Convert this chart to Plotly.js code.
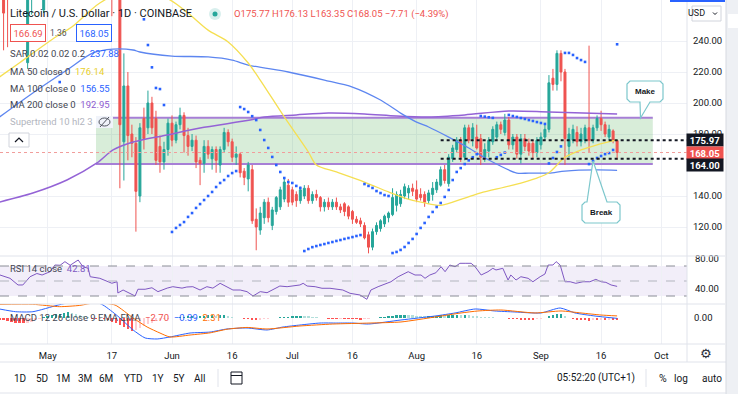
<!DOCTYPE html>
<html><head><meta charset="utf-8">
<script src="https://cdn.plot.ly/plotly-3.0.1.min.js"></script>
<style>html,body{margin:0;padding:0;background:#fff;overflow:hidden}#chart{width:738px;height:394px}</style>
</head><body><div id="chart"></div>
<script>
// ---------------- DATA ----------------
const startDate = '2021-04-19'; // first daily candle
const openP = [
300,290,280,270,280,290,285,226,280,290, 285,260,290,295,285,300,280,315,355,340,
365,380,345,370,300,290,320,290,300,280, 275,175,211,180,174,140,190,184,200,190,
172,162,170,187,176,186,192,179,172,176, 163,161,172,164,170,160,170,181,175,165,
167,156,151,157,125,118,126,136,121,130, 133,138,147,144,141,137,140,145,137,141,
139,133,136,133,136,133,135,133,130,125, 124,121,115,107,117,119,122,126,128,134,
135,140,142,145,144,141,141,137,141,144, 147,157,148,164,170,176,165,184,177,178,
177,165,169,175,178,186,181,189,173,178, 167,177,174,174,168,173,178,183,216,212,
232,220,172,176,181,175,176,184,176,184, 190,186,178,182,175.77];
const highP = [
310,300,295,285,295,300,298,290,295,300, 295,300,300,300,310,310,320,360,365,370,
390,410,380,385,320,330,330,320,305,290, 280,232,220,186,178,187,197,208,204,195,
179,175,190,192,188,197,194,184,180,179, 165,176,176,172,172,172,184,183,177,172,
168,158,162,160,132,133,138,139,133,140, 146,152,151,146,143,146,147,147,143,144,
140,138,139,138,139,135,136,134,131,127, 126,123,117,119,123,125,128,130,145,143,
144,148,147,148,150,145,143,144,149,151, 159,160,167,173,178,178,186,186,187,186,
180,174,178,185,188,188,193,191,180,180, 180,180,177,176,178,181,186,218,222,234,
234,222,184,186,185,184,186,237,186,192, 195,188,186,183,176.13];
const lowP = [
275,234,236,268,270,275,272,222,257,270, 268,258,280,280,282,270,275,310,330,335,
345,330,340,290,270,285,285,275,256,268, 145,150,163,165,117,136,170,180,180,160,
155,157,166,172,174,183,168,166,169,158, 147,155,164,157,155,155,168,172,162,160,
152,147,143,122,105,115,122,123,118,128, 131,136,133,134,133,135,138,135,135,137,
130,130,131,131,131,129,127,125,122,122, 120,112,103,105,115,117,120,123,127,130,
133,138,138,140,136,137,133,135,137,142, 146,148,146,162,168,162,163,174,172,170,
160,162,165,173,176,180,179,170,170,164, 161,169,166,164,165,170,176,181,208,208,
214,160,165,174,172,172,174,168,174,182, 182,178,176,174,163.35];
const closeP = [
290,258,270,280,290,285,290,280,290,285, 280,290,295,285,300,280,315,355,340,365,
380,345,370,300,290,320,290,300,280,275, 186,211,179,174,143,184,177,200,184,163,
162,170,187,176,186,192,179,172,176,162, 161,172,167,170,163,170,181,175,165,167,
155,152,160,124,120,129,136,126,131,139, 144,149,136,136,137,144,145,137,141,139,
133,136,133,136,133,131,130,127,125,123, 122,113,107,117,121,124,127,129,139,141,
141,146,145,143,138,139,136,142,145,149, 157,150,165,171,176,165,184,176,184,171,
165,170,176,183,186,183,189,173,178,167, 177,172,169,168,176,178,183,213,212,232,
220,177,180,183,175,180,184,176,184,190, 186,180,183,176,168.05];

// Moving averages (day offset from startDate, value)
const ma50Day = [0,5,14,18,25,34,42.5,47,52,57,62,65,71,77,79,84,91,97,101,106,110,116,120,128,134,137,141,145,149,154];
const ma50Val = [216.8,226,242.6,249,264.5,275,266.5,258,247,239.4,225.8,214.8,191,168.4,160,155.5,149,142.6,138.7,135.5,134,138.7,142,147,151.6,155,165,169.7,173,176.14];
const ma100Day = [0,8.3,16.8,23.3,28.3,33.3,35,43,52,58,62,72,81,88,95,100,104,107,112,117,122,129,132,137,141,149,154];
const ma100Val = [191,206.5,221.3,232.3,234.8,234.2,232.9,230.3,229.7,227.7,224.5,220,214.8,210.3,201.9,193.5,187.7,184.5,178,171,163.2,154.8,154.8,154.8,156.1,156.8,156.55];
const ma200Day = [0,8.3,16.8,24.3,28.3,33.3,41.8,50,62.5,66,74,82,91,99,107,116,127,137,154];
const ma200Val = [136.1,141.9,150.3,161.3,169.7,174.8,179.4,183.9,189,191,192.3,193.5,192.9,191.6,191,192.3,194.8,194.2,192.95];

// Parabolic SAR dots
const sarDay = [15,36,37,38,39,40,41,
 43,44,45,46,47,48,49,50,51,52,53,54,55,56,57,58,59,
 60,61,62,63,64,65,66,67,68,69,70,71,72,73,74,75,
 76,77,78,79,80,81,82,83,84,85,86,87,88,89,90,
 91,92,93,94,95,96,97,
 98,99,100,101,102,103,104,105,106,107,108,109,110,111,112,113,114,115,116,117,118,119,
 120,121,122,123,124,125,126,127,128,129,130,131,132,133,134,135,136,
 137,138,139,140,141,142,143,144,145,146,147,148,149,150,151,152,153,154];
const sarVal = [213.5,254,237.4,223,209.7,209,198.7,
 116.8,119.4,121.3,123.2,126.5,129,132.3,134.8,137.4,140,142.6,145.8,148.4,150.3,152.9,154.8,156.1,
 197.4,196.1,194.2,191.5,189,182.6,176.1,171,165.2,160,155.5,151.6,149,148.4,146.5,145.2,
 104.5,105.8,107,107.7,108.4,109,109.7,110.3,111,111.6,112.3,112.9,113.5,114.2,114.8,
 147.7,146.5,145.2,143.2,141.9,140.6,140,
 103.2,103.9,105.2,107.1,109.7,112.3,115.5,119.4,122.6,126.5,129.7,132.9,135.5,139.4,143.9,150.3,155.5,158,160.6,163,165,167,
 191.6,191.2,190.8,190.4,165,166.5,168,192.3,191.6,191,190.3,189.7,189,188.4,187.7,187.1,186.5,
 161,164.5,168.4,172,232.3,232.3,231,229,227.7,226.5,160.6,162.6,164.5,165.8,167,167.7,169.7,237.88];

// RSI 14
const rsiDay = [0.1,2.6,4.6,5.8,7.6,9.3,10.6,12.6,13.8,15.1,16.3,17.6,19.6,20.8,22.1,22.6,25,26.8,28,29.3,29.5,30.8,32.5,33.8,34.5,36.3,38,39.5,41.8,43.2,45.5,46.7,48.2,50,51.7,53.2,55,56.7,58.2,60,61.7,63.2,65,66.7,68.2,69.9,71.7,73.2,74.9,75.7,76.7,78.7,80.4,82.4,84.1,85.6,87.4,89.9,91.6,92.6,94.4,96.1,97.6,99.4,101.9,103.6,105.1,106.1,107.3,108.8,110.1,111.1,112.3,113.6,114.8,116.1,117.6,118.6,120.1,121.8,123,123.8,125.5,126.8,127.5,128.8,130,131.8,133,134.8,136,136.8,138,138.8,139.8,141,142.3,143.7,145.5,147.2,148.7,150,151.2,152.5,154];
const rsiVal = [58,53.6,44.7,44.7,55.7,60,58,62.4,71.3,71,75.8,71,78,69,67,55.7,53.6,49,47,49,34,38,34,30,39,39,41,35.8,40.5,42.4,40.5,42,42.4,38,42.4,40.5,46.9,42.4,38,38,35.8,30,35.8,34.4,39,43.3,42.4,43.3,44.7,46.9,43.3,42.4,40.3,40.3,38.9,38,33.6,31.3,25.6,38,42.4,46,49,55.7,62.4,58,58,53.6,58,61,69,62.4,71.3,69,73.6,73.6,73.6,69,58,62.4,66.9,64.7,66.9,51.3,58,51.3,55.7,53.6,49,55.7,59.3,71.3,71.3,75.8,71.3,49,49,46.9,49,49,52.2,49,48.2,44.7,42.81];

// MACD 12 26 9
const macdDay = [0,4,8.3,14.6,18.3,22,25.8,29.5,33.3,36.3,39.3,42.5,47.5,52.5,56.7,61.7,66.7,70.7,74.9,79.9,84.1,88.1,92,100.1,108.6,113.6,118.6,123.5,128.5,135,139.8,143.5,148.5,154];
const macdVal = [10,7,7,14.4,18,21,14.4,2,-13.3,-22.2,-23.3,-21.1,-16.7,-15.6,-12.2,-11.1,-13.3,-10,-7.8,-5.6,-5.6,-5.6,-6.7,-2.2,2.2,5.6,10,7.8,6.7,5.6,11.1,5.6,2.2,-0.39];
const signalDay = [0,8.3,15,20,24,28.8,33.3,36.8,40,42.5,47.5,52.5,56.7,61.7,66.7,74.9,83.1,92.4,100.1,108.6,115.1,119.3,125,133.5,140,145,150,154];
const signalVal = [15,15.2,12.6,14,17,14.4,0,-10,-16.7,-21.1,-18.9,-16.5,-12.5,-10.5,-12.2,-8.9,-6.7,-5.6,-4.4,1.1,5.6,7.8,8.9,5.6,7.8,5.6,3.3,2.31];
const histVal = [
-2,-2,-3,-4,-5,-6,-6,-5,-4,-2, -1,1,2,3,4,5,6,7,6,5,
3,2,1,-1,-1.5,-1,-1,-2,-4,-6, -8,-10,-12,-14,-13,-11,-9,-7,-5,-3.5,
-2.5,-1.5,-1,-0.5,0.5,1,1.5,2,2,1.5, 2,2.5,3,3,2.5,3,3.5,2.5,1.5,0.5,
-0.5,-1,-1.5,-2,-2.5,-2,-1.5,-1,-0.5,0.3, 0.8,1.2,1.5,1.8,2.2,2.5,2.2,1.8,1.3,0.8,
0.3,-0.3,-0.6,-1,-1.2,-0.8,-0.8,-1,-1.2,-1.5, -1.7,-1.5,-1,-0.3,0.5,1,1.5,2,2.5,3,
3,3.2,3,2.8,2.5,2.2,2,2.2,2.5,2.6, 3,2.8,3.2,3.5,3.8,3.3,3.6,3.2,2.5,1.8,
1.2,1,0.8,0.6,0.5,0.3,-0.3,-0.8,-1.2,-1.5, -1.8,-2,-2,-2.2,-1.6,-1,0.5,2,3.5,4.5,
4.5,2.5,0.5,-1,-2,-2.5,-2.5,-2.8,-2.5,-2.6, -2.2,-2.5,-2.3,-2.4,-2.7];

// Drawing objects (price levels)
const zoneStartDay = 24.05, zoneEndDay = 162.9, zoneLow = 160.6, zoneHigh = 190.5;
const levelStartDay = 110, levelUpper = 175.97, levelLower = 164.00, lastPrice = 168.05;

const tickDates = ['2021-05-01','2021-05-17','2021-06-01','2021-06-16','2021-07-01','2021-07-16','2021-08-01','2021-08-16','2021-09-01','2021-09-16','2021-10-01'];
const tickText = ['May','17','Jun','16','Jul','16','Aug','16','Sep','16','Oct'];
const priceTicks = [120,140,180,200,220,240];

// ---------------- HELPERS ----------------
const W = 738, H = 394, DAY = 86400000;
const t0 = Date.parse(startDate + 'T00:00:00Z');
const d2s = d => new Date(t0 + d * DAY).toISOString().slice(0, 19).replace('T', ' ');
const px = x => x / W, py = y => 1 - y / H;
const candleDates = openP.map((_, i) => d2s(i));
const FONT = 'Roboto, "Liberation Sans", Arial, sans-serif';
const TXT = '#131722';

const plotRight = 687;
const xDom = [0, plotRight / W];
const xRange = [d2s(0.107), d2s(171.43)];

// ---------------- TRACES ----------------
const traces = [];
traces.push({type:'scatter', mode:'lines', x: ma200Day.map(d2s), y: ma200Val, line:{color:'#9463d6', width:1.5, shape:'spline', smoothing:0.8}, hoverinfo:'skip'});
traces.push({type:'scatter', mode:'lines', x: ma100Day.map(d2s), y: ma100Val, line:{color:'#5d86f0', width:1.3, shape:'spline', smoothing:0.8}, hoverinfo:'skip'});
traces.push({type:'scatter', mode:'lines', x: ma50Day.map(d2s), y: ma50Val, line:{color:'#f5df52', width:1.3, shape:'spline', smoothing:0.8}, hoverinfo:'skip'});
traces.push({type:'candlestick', x: candleDates, open: openP, high: highP, low: lowP, close: closeP,
  increasing:{line:{color:'#26a69a', width:1}, fillcolor:'#26a69a'},
  decreasing:{line:{color:'#ef5350', width:1}, fillcolor:'#ef5350'},
  whiskerwidth:0, hoverinfo:'skip'});
traces.push({type:'scatter', mode:'markers', x: sarDay.map(d2s), y: sarVal, marker:{symbol:'square', size:2.6, color:'#2962ff'}, hoverinfo:'skip'});
// RSI
traces.push({type:'scatter', mode:'lines', x: rsiDay.map(d2s), y: rsiVal, yaxis:'y2', line:{color:'#7e57c2', width:1}, hoverinfo:'skip'});
// MACD
const histColors = histVal.map((v, i) => {
  const p = i > 0 ? histVal[i-1] : v;
  if (v >= 0) return v >= p ? '#26a69a' : '#b2dfdb';
  return v <= p ? '#ff5252' : '#ffcdd2';
});
traces.push({type:'bar', x: candleDates, y: histVal, yaxis:'y3', width: 0.6 * DAY, marker:{color: histColors, line:{width:0}}, hoverinfo:'skip'});
traces.push({type:'scatter', mode:'lines', x: macdDay.map(d2s), y: macdVal, yaxis:'y3', line:{color:'#2962ff', width:1, shape:'spline', smoothing:0.6}, hoverinfo:'skip'});
traces.push({type:'scatter', mode:'lines', x: signalDay.map(d2s), y: signalVal, yaxis:'y3', line:{color:'#ff6d00', width:1, shape:'spline', smoothing:0.6}, hoverinfo:'skip'});

// ---------------- SHAPES ----------------
const shapes = [];
const hline = (y, x0, x1, color, w, dash) => shapes.push({type:'line', xref:'paper', yref:'paper', x0:px(x0), x1:px(x1), y0:py(y), y1:py(y), line:{color, width:w||1, dash:dash||'solid'}});
const vline = (x, y0, y1, color, w) => shapes.push({type:'line', xref:'paper', yref:'paper', x0:px(x), x1:px(x), y0:py(y0), y1:py(y1), line:{color, width:w||1}});
const prect = (x0, y0, x1, y1, fill, lineColor, lw) => shapes.push({type:'rect', xref:'paper', yref:'paper', x0:px(x0), x1:px(x1), y0:py(y1), y1:py(y0), fillcolor:fill, line:{color:lineColor||'rgba(0,0,0,0)', width:lw||0}});
const ppath = (pts, fill, color, lw) => shapes.push({type:'path', xref:'paper', yref:'paper',
  path: 'M' + pts.map(p => px(p[0]).toFixed(5) + ',' + py(p[1]).toFixed(5)).join(' L') + ' Z', fillcolor:fill, line:{color, width:lw}});

// zone
shapes.push({type:'rect', xref:'x', yref:'y', x0:d2s(zoneStartDay), x1:d2s(zoneEndDay), y0:zoneLow, y1:zoneHigh, fillcolor:'rgba(76,175,80,0.22)', line:{width:0}, layer:'between'});
shapes.push({type:'line', xref:'x', yref:'y', x0:d2s(zoneStartDay), x1:d2s(zoneEndDay), y0:zoneHigh, y1:zoneHigh, line:{color:'#a77fd6', width:2}, layer:'between'});
shapes.push({type:'line', xref:'x', yref:'y', x0:d2s(zoneStartDay), x1:d2s(zoneEndDay), y0:zoneLow, y1:zoneLow, line:{color:'#a77fd6', width:2}, layer:'between'});
// last price line
shapes.push({type:'line', xref:'paper', yref:'y', x0:0, x1:xDom[1], y0:lastPrice, y1:lastPrice, line:{color:'#f19c9a', width:1, dash:'dot'}});
// horizontal dotted levels
[levelUpper, levelLower].forEach(v => shapes.push({type:'line', xref:'x', yref:'y', x0:d2s(levelStartDay), x1:xRange[1], y0:v, y1:v, line:{color:'#131722', width:2, dash:'dot'}}));
// RSI band + dashed lines
shapes.push({type:'rect', xref:'paper', yref:'y2', x0:0, x1:xDom[1], y0:30, y1:70, fillcolor:'rgba(126,87,194,0.1)', line:{width:0}, layer:'below'});
[70, 50, 30].forEach(v => shapes.push({type:'line', xref:'paper', yref:'y2', x0:0, x1:xDom[1], y0:v, y1:v, line:{color: v===50 ? '#b2b5be' : '#8a8d96', width:1, dash:'dash'}}));

// pane separators
hline(256, 0, 725, '#e0e3eb', 1);
hline(304, 0, 725, '#e0e3eb', 1);
hline(344, 0, 725, '#e0e3eb', 1);
hline(362, 0, 738, '#e0e3eb', 1);
vline(plotRight, 0, 362, '#e0e3eb', 1);
// right strip
prect(726, 0, 738, 394, '#eef0f4');
vline(726, 0, 394, '#d6d9e0', 1);
prect(728, 14, 738, 28, '#ffffff');
prect(670, 0, 725, 2, '#2962ff');
hline(393, 0, 726, '#e0e3eb', 1);
// toolbar separators
vline(218, 369, 387, '#e0e3eb', 1);
vline(646, 369, 387, '#e0e3eb', 1);
// calendar icon
prect(231, 372, 242, 384, 'rgba(0,0,0,0)', '#131722', 1);
hline(375.5, 231, 242, '#131722', 1);

// teal status dot
shapes.push({type:'circle', xref:'paper', yref:'paper', x0:px(209), x1:px(221), y0:py(20), y1:py(8), fillcolor:'rgba(38,166,154,0.18)', line:{width:0}});
shapes.push({type:'circle', xref:'paper', yref:'paper', x0:px(212.5), x1:px(217.5), y0:py(16.5), y1:py(11.5), fillcolor:'#26a69a', line:{width:0}});
// eye-slash icon
prect(96, 116, 113, 128, '#f0f3fa');
shapes.push({type:'circle', xref:'paper', yref:'paper', x0:px(99), x1:px(110), y0:py(126), y1:py(118), fillcolor:'rgba(0,0,0,0)', line:{color:'#50535e', width:1}});
shapes.push({type:'line', xref:'paper', yref:'paper', x0:px(100), x1:px(109), y0:py(127), y1:py(117), line:{color:'#50535e', width:1}});
// collapse button
prect(9, 133, 29, 147, '#ffffff', '#d1d4dc', 1);
shapes.push({type:'path', xref:'paper', yref:'paper', path:'M'+px(15)+','+py(142)+' L'+px(19)+','+py(138)+' L'+px(23)+','+py(142), line:{color:'#131722', width:1.2}});
// USD button
prect(692, 6, 721, 21, '#ffffff', '#d1d4dc', 1);
shapes.push({type:'path', xref:'paper', yref:'paper', path:'M'+px(713)+','+py(12.5)+' L'+px(715)+','+py(14.5)+' L'+px(717)+','+py(12.5), line:{color:'#131722', width:1}});

// callouts
const calloutColor = '#7cc7cc';
ppath([[630,81],[660,81],[663,84],[663,99],[660,102],[650,102],[640.5,118],[640,102],[630,102],[627,99],[627,84]], '#ffffff', calloutColor, 1.2);
ppath([[585,202],[587,202],[593,161],[607,202],[617,202],[620,205],[620,220],[617,223],[585,223],[582,220],[582,205]], '#ffffff', calloutColor, 1.2);

// ---------------- ANNOTATIONS ----------------
const ann = [];
const txt = (x, y, text, o) => { o = o || {}; ann.push(Object.assign({xref:'paper', yref:'paper', x:px(x), y:py(y), text, showarrow:false,
  xanchor:o.xa || 'left', yanchor:'middle', font:{family:o.family || FONT, size:o.size || 9.5, color:o.color || TXT, weight:o.weight || 'normal'}}, o.extra || {})); };
const sp = (c, t) => '<span style="color:' + c + '">' + t + '</span>';

txt(8, 14, 'Litecoin / U.S. Dollar · 1D · COINBASE', {size:11});
txt(232, 14, 'O175.77 H176.13 L163.35 C168.05 −7.71 (−4.39%)', {size:9.5, color:'#ef5350'});
txt(27.5, 33, '166.69', {xa:'center', color:'#ef5350', size:9.5, extra:{bordercolor:'#ef5350', borderwidth:1, borderpad:2.5, bgcolor:'#ffffff'}});
txt(58, 33, '1.36', {xa:'center', color:'#50535e', size:8.5});
txt(93.5, 33, '168.05', {xa:'center', color:'#2962ff', size:9.5, extra:{bordercolor:'#2962ff', borderwidth:1, borderpad:2.5, bgcolor:'#ffffff'}});
txt(8, 53, 'SAR 0.02 0.02 0.2  ' + sp('#2962ff', '237.88'), {color:'#434651'});
txt(8, 71, 'MA 50 close 0  ' + sp('#e9cf2c', '176.14'), {color:'#434651'});
txt(8, 88, 'MA 100 close 0  ' + sp('#2962ff', '156.55'), {color:'#434651'});
txt(8, 105, 'MA 200 close 0  ' + sp('#8e5bd0', '192.95'), {color:'#434651'});
txt(8, 122, 'Supertrend 10 hl2 3', {color:'#b2b5be'});
txt(8, 268, 'RSI 14 close  ' + sp('#7e57c2', '42.81'), {color:'#434651'});
txt(8, 317, 'MACD 12 26 close 9 EMA EMA  ' + sp('#ef5350', '−2.70') + '  ' + sp('#2962ff', '−0.39') + '  ' + sp('#ff6d00', '2.31'), {color:'#434651'});

// price tags
const tag = (price, bg, shift) => ann.push({xref:'paper', yref:'y', x:px(705), y:price, yshift:shift||0, text:'<b>' + price.toFixed(2) + '</b>', showarrow:false,
  xanchor:'center', yanchor:'middle', bgcolor:bg, width:36, height:12, borderpad:0, font:{family:FONT, size:9.5, color:'#ffffff'}});
tag(levelUpper, '#131722', 0);
tag(lastPrice, '#ef5350', 0);
tag(levelLower, '#131722', -6);

txt(706.5, 13.5, 'USD', {xa:'right', size:9, extra:{xanchor:'right'}});
txt(645, 91.5, '<b>Make</b>', {xa:'center', size:8, family:'"Liberation Sans", Arial, sans-serif'});
txt(601, 212.5, '<b>Break</b>', {xa:'center', size:8, family:'"Liberation Sans", Arial, sans-serif'});

// bottom toolbar
const tools = [['1D',20],['5D',42],['1M',63],['3M',85],['6M',106],['YTD',133],['1Y',158],['5Y',179],['All',200]];
tools.forEach(t => txt(t[1], 378, t[0], {xa:'center', size:10}));
txt(596, 378, '05:52:20 (UTC+1)', {xa:'center', size:10});
txt(663, 378, '%', {xa:'center', size:10.5});
txt(681, 378, 'log', {xa:'center', size:10});
txt(712, 378, 'auto', {xa:'center', size:10});
txt(706, 353, '⚙', {xa:'center', size:13, family:'"DejaVu Sans", sans-serif', color:'#2a2e39'});

// ---------------- LAYOUT ----------------
const mainDom = [py(256), 1], rsiDom = [py(304), py(256)], macdDom = [py(344), py(304)];
const layout = {
  width: W, height: H, margin:{l:0, r:0, t:0, b:0}, paper_bgcolor:'#ffffff', plot_bgcolor:'#ffffff',
  showlegend:false, hovermode:false, dragmode:false, bargap:0,
  font:{family:FONT, color:TXT, size:9.5},
  xaxis:{type:'date', domain:xDom, range:xRange, anchor:'y3', rangeslider:{visible:false},
    tickvals:tickDates, ticktext:tickText, ticks:'', showgrid:true, gridcolor:'#eef0f5', gridwidth:1,
    showline:false, zeroline:false, tickfont:{size:9.5, color:TXT}, ticklabelstandoff:4},
  yaxis:{domain:mainDom, range:[101.29, 266.45], side:'right', anchor:'x', tickvals:priceTicks, tickformat:'.2f',
    ticks:'', showgrid:true, gridcolor:'#eef0f5', zeroline:false, showline:false, tickfont:{size:9.5, color:TXT}, ticklabelstandoff:5},
  yaxis2:{domain:rsiDom, range:[19.33, 83.33], side:'right', anchor:'x', tickvals:[40, 80], tickformat:'.2f',
    ticks:'', showgrid:false, zeroline:false, showline:false, tickfont:{size:9.5, color:TXT}, ticklabelstandoff:7},
  yaxis3:{domain:macdDom, range:[-28.89, 15.56], side:'right', anchor:'x', tickvals:[0], tickformat:'.2f',
    ticks:'', showgrid:false, zeroline:false, showline:false, tickfont:{size:9.5, color:TXT}, ticklabelstandoff:6},
  shapes: shapes, annotations: ann
};
Plotly.newPlot('chart', traces, layout, {staticPlot:true, displayModeBar:false});
</script>
</body></html>
